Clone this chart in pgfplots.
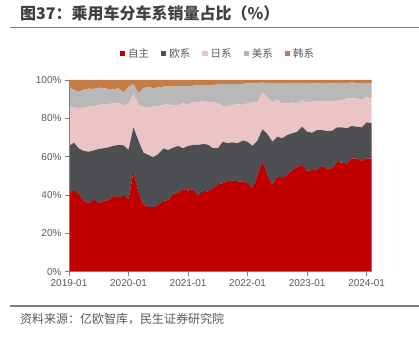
\documentclass[border=0pt]{standalone}
\usepackage{pgfplots}
\pgfplotsset{compat=1.18}
\usepackage{pgfplotstable}
\usepackage{fontspec}
\setmainfont{Liberation Sans}
\newfontfamily\cjk{Noto Sans CJK SC}
\definecolor{cZZ}{HTML}{C00000}
\definecolor{cOU}{HTML}{4E4F52}
\definecolor{cRI}{HTML}{EBC5C5}
\definecolor{cMEI}{HTML}{B8B8B8}
\definecolor{cHAN}{HTML}{C47D47}
\definecolor{txtgray}{HTML}{595959}
\definecolor{titlegray}{HTML}{404040}
\definecolor{linegray}{HTML}{7F7F7F}

\pgfplotstableread{
i  zz   ou   ri   mei  han
0  40.9 24.7 20.8 10.1 3.5
1  42.6 24.7 18.3 9.2  5.2
2  40.5 23.7 20.9 8.7  6.2
3  36.9 26.1 22.8 9.2  5.0
4  35.7 26.9 23.5 9.4  4.5
5  37.8 25.5 23.1 8.9  4.7
6  36.0 28.0 23.0 9.0  4.0
7  36.9 27.5 22.9 8.4  4.3
8  37.4 27.5 22.6 7.8  4.7
9  39.5 26.2 22.1 7.3  4.9
10 38.8 27.3 22.1 7.5  4.3
11 40.0 25.9 20.5 7.0  6.6
12 37.8 25.7 24.3 8.7  3.5
13 52.2 23.1 17.4 5.2  2.1
14 41.7 26.6 18.7 6.1  6.9
15 34.8 27.3 24.0 9.6  4.3
16 33.9 27.0 24.7 10.9 3.5
17 33.6 26.1 26.4 9.6  4.3
18 34.8 26.6 25.0 9.8  3.8
19 36.9 27.3 22.8 9.5  3.5
20 37.4 26.1 23.8 9.6  3.1
21 40.5 24.2 21.9 9.9  3.5
22 41.2 24.4 21.4 9.9  3.1
23 43.1 21.3 23.4 8.7  3.5
24 42.3 23.3 21.7 9.6  3.1
25 43.0 23.1 22.3 8.6  3.0
26 40.0 26.1 22.3 9.0  2.6
27 42.1 24.5 22.6 8.2  2.6
28 41.9 24.4 22.1 8.6  3.0
29 43.5 20.9 24.3 8.7  2.6
30 45.7 18.7 23.4 9.9  2.3
31 46.1 21.7 18.6 11.5 2.1
32 47.3 19.7 19.4 11.5 2.1
33 47.5 20.0 19.5 10.9 2.1
34 47.2 19.8 20.3 10.6 2.1
35 46.9 21.5 18.6 11.0 2.0
36 46.1 21.7 20.0 10.4 1.8
37 43.5 22.1 22.8 9.9  1.7
38 50.4 18.0 19.8 10.3 1.5
39 57.4 16.9 19.1 5.2  1.4
40 50.4 21.4 19.2 7.4  1.6
41 45.2 22.6 20.4 10.1 1.7
42 49.6 20.8 19.5 8.5  1.6
43 49.2 20.4 18.2 10.6 1.6
44 50.4 20.9 16.5 10.6 1.6
45 53.1 19.1 16.0 10.2 1.6
46 54.5 18.5 14.8 10.7 1.5
47 55.7 19.9 14.0 8.8  1.6
48 52.2 20.8 15.2 10.2 1.6
49 53.1 19.4 16.2 9.7  1.6
50 53.1 20.8 14.8 9.8  1.5
51 55.1 18.8 15.3 9.2  1.6
52 53.9 19.5 15.3 9.7  1.6
53 53.4 20.0 15.3 9.8  1.5
54 57.4 17.9 13.9 9.2  1.6
55 56.9 18.4 14.3 8.9  1.5
56 56.5 18.3 15.6 8.1  1.5
57 59.1 16.9 14.4 8.2  1.4
58 59.0 16.6 14.8 8.1  1.5
59 57.8 17.5 14.3 8.8  1.6
60 59.1 18.8 13.1 7.4  1.6
61 59.1 18.3 13.0 8.0  1.6
}\datatable

\begin{document}
\begin{tikzpicture}
\path[use as bounding box] (0,0) rectangle (419pt,339pt);
% title
\node[anchor=west, inner sep=0pt, text=titlegray, font=\cjk\bfseries\fontsize{16}{18}\selectfont] at (20pt,325.5pt) {图37：乘用车分车系销量占比（\%）};
\draw[linegray, line width=1.3pt] (10pt,311.5pt) -- (419pt,311.5pt);
\draw[linegray, line width=1.3pt] (10pt,33pt) -- (419pt,33pt);
\node[anchor=west, inner sep=0pt, text=txtgray, font=\cjk\fontsize{12}{14}\selectfont] at (20pt,20pt) {资料来源：亿欧智库，民生证券研究院};
\begin{axis}[
  at={(69pt,67.3pt)}, anchor=south west,
  scale only axis, width=302.6pt, height=191.7pt,
  stack plots=y,
  xmin=0, xmax=61, ymin=0, ymax=100,
  axis lines*=left,
  axis on top,
  axis line style={linegray, line width=0.8pt},
  tick style={linegray, line width=0.8pt},
  tick align=outside,
  major tick length=4pt,
  xtick={0,12,24,36,48,60},
  xticklabels={2019-01,2020-01,2021-01,2022-01,2023-01,2024-01},
  ytick={0,20,40,60,80,100},
  yticklabel={\pgfmathprintnumber{\tick}\%},
  /pgf/number format/assume math mode=true,
  tick label style={font=\fontsize{10}{12}\selectfont, text=txtgray},
  legend columns=-1,
  legend image code/.code={\fill[#1] (0pt,-2.6pt) rectangle (5.2pt,2.6pt);},
  legend style={at={(0.4924,1.138)}, anchor=center, draw=none, fill=none,
    font=\cjk\fontsize{10.5}{12}\selectfont, text=txtgray,
    /tikz/every even column/.append style={column sep=10pt},
    /tikz/every odd column/.append style={column sep=1pt}},
]
\addplot[fill=cZZ, draw=none] table[x=i,y=zz] {\datatable} \closedcycle;
\addplot[fill=cOU, draw=none] table[x=i,y=ou] {\datatable} \closedcycle;
\addplot[fill=cRI, draw=none] table[x=i,y=ri] {\datatable} \closedcycle;
\addplot[fill=cMEI, draw=none] table[x=i,y=mei] {\datatable} \closedcycle;
\addplot[fill=cHAN, draw=none] table[x=i,y=han] {\datatable} \closedcycle;
\legend{自主,欧系,日系,美系,韩系}
\end{axis}
\end{tikzpicture}
\end{document}
